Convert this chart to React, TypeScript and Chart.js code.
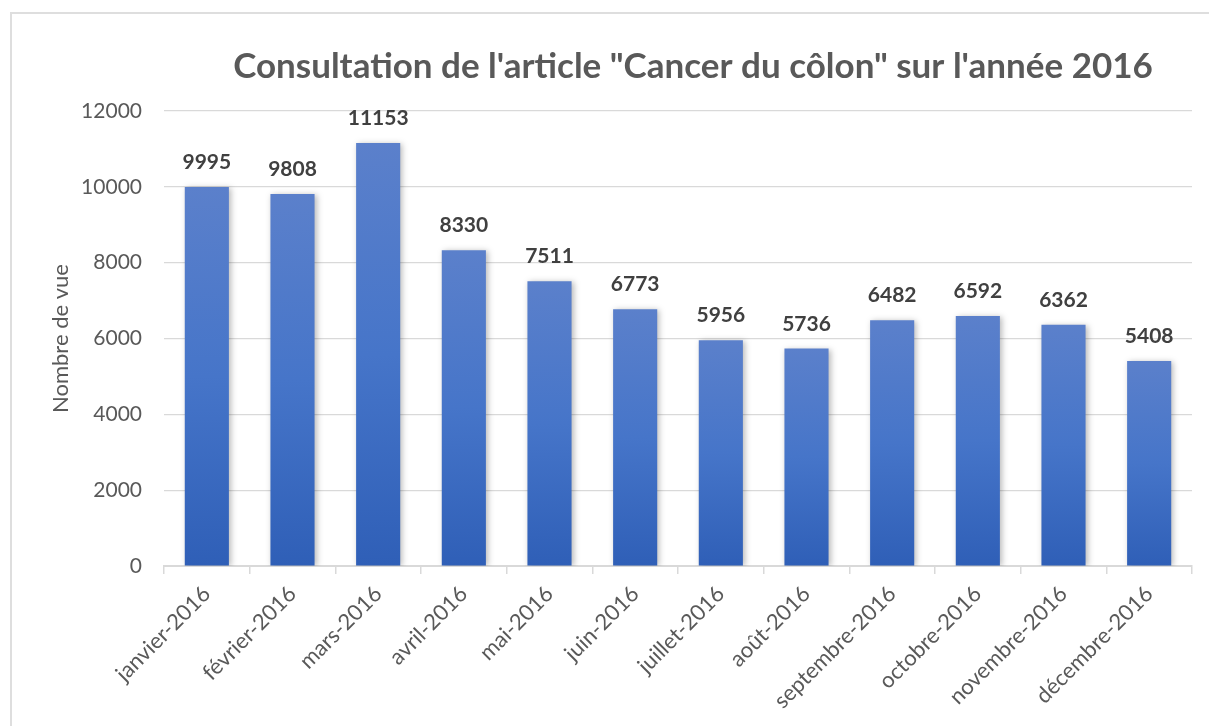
import React, { useEffect, useRef } from "react";
import { Chart, registerables } from "chart.js";

Chart.register(...registerables);

const categories = [
  "janvier-2016",
  "février-2016",
  "mars-2016",
  "avril-2016",
  "mai-2016",
  "juin-2016",
  "juillet-2016",
  "août-2016",
  "septembre-2016",
  "octobre-2016",
  "novembre-2016",
  "décembre-2016",
];
const views = [9995, 9808, 11153, 8330, 7511, 6773, 5956, 5736, 6482, 6592, 6362, 5408];
const titleText = 'Consultation de l\'article "Cancer du côlon" sur l\'année 2016';
const yAxisTitle = "Nombre de vue";

const W = 1209;
const H = 726;

export default function App() {
  const ref = useRef<HTMLCanvasElement | null>(null);

  useEffect(() => {
    if (!ref.current) return;
    const titlePlugin = {
      id: "customTitle",
      afterDraw(chart: any) {
        const ctx = chart.ctx;
        ctx.save();
        ctx.font = "bold 35px Lato";
        ctx.fillStyle = "#595959";
        ctx.textAlign = "center";
        ctx.textBaseline = "alphabetic";
        ctx.fillText(titleText, 693, 78);
        ctx.restore();
      },
    };
    const labelPlugin = {
      id: "barLabels",
      beforeDatasetsDraw(chart: any) {
        const ctx = chart.ctx;
        ctx.save();
        ctx.shadowColor = "rgba(0,0,0,0.28)";
        ctx.shadowBlur = 6;
        ctx.shadowOffsetX = 2;
        ctx.shadowOffsetY = 1;
      },
      afterDatasetsDraw(chart: any) {
        const ctx = chart.ctx;
        ctx.restore();
        ctx.save();
        ctx.font = "bold 21px Lato";
        ctx.fillStyle = "#404040";
        ctx.textAlign = "center";
        ctx.textBaseline = "alphabetic";
        const meta = chart.getDatasetMeta(0);
        meta.data.forEach((bar: any, i: number) => {
          ctx.fillText(String(views[i]), bar.x, bar.y - 18);
        });
        ctx.restore();
      },
    };

    const chart = new Chart(ref.current, {
      type: "bar",
      data: {
        labels: categories,
        datasets: [
          {
            data: views,
            backgroundColor: (c: any) => {
              const ch = c.chart;
              const area = ch.chartArea;
              if (!area || c.dataIndex === undefined) return "#4472c4";
              const ys = ch.scales.y;
              const top = ys.getPixelForValue(views[c.dataIndex]);
              const bottom = ys.getPixelForValue(0);
              const g = ch.ctx.createLinearGradient(0, top, 0, bottom);
              g.addColorStop(0, "#5b80cb");
              g.addColorStop(0.5, "#4675c9");
              g.addColorStop(1, "#2f5fb7");
              return g;
            },
            borderWidth: 0,
            categoryPercentage: 1,
            barPercentage: 0.515,
          },
        ],
      },
      options: {
        responsive: false,
        animation: false,
        layout: { padding: { top: 111, right: 17, bottom: 0, left: 40 } },
        plugins: {
          legend: { display: false },
          title: { display: false },
          tooltip: { enabled: false },
        },
        scales: {
          x: {
            afterFit: (s: any) => {
              s.height = 160;
            },
            grid: {
              offset: true,
              drawOnChartArea: false,
              drawTicks: true,
              tickLength: 8,
              color: "#d9d9d9",
              lineWidth: 1.5,
            },
            border: { display: true, color: "#d9d9d9", width: 2 },
            ticks: {
              minRotation: 45,
              maxRotation: 45,
              autoSkip: false,
              padding: 7,
              color: "#595959",
              font: { family: "Lato", size: 22 },
            },
          },
          y: {
            min: 0,
            max: 12000,
            afterFit: (s: any) => {
              s.width = 124;
            },
            ticks: {
              stepSize: 2000,
              padding: 22,
              color: "#595959",
              font: { family: "Lato", size: 21 },
              callback: (v: any) => String(v),
            },
            grid: { color: "#d9d9d9", lineWidth: 1.2, drawTicks: false },
            border: { display: false },
            title: {
              display: true,
              text: yAxisTitle,
              color: "#595959",
              font: { family: "Lato", size: 22 },
              padding: { top: 8, bottom: 0 },
            },
          },
        },
      },
      plugins: [titlePlugin, labelPlugin],
    });
    return () => chart.destroy();
  }, []);

  return (
    <div style={{ position: "fixed", left: 0, top: 0, width: W, height: H, background: "#fff" }}>
      <div
        style={{
          position: "absolute",
          left: 10,
          top: 12,
          width: W,
          height: H,
          borderLeft: "2px solid #dedede",
          borderTop: "2px solid #dedede",
          boxSizing: "border-box",
        }}
      />
      <canvas ref={ref} width={W} height={H} style={{ position: "absolute", left: 0, top: 0 }} />
    </div>
  );
}
